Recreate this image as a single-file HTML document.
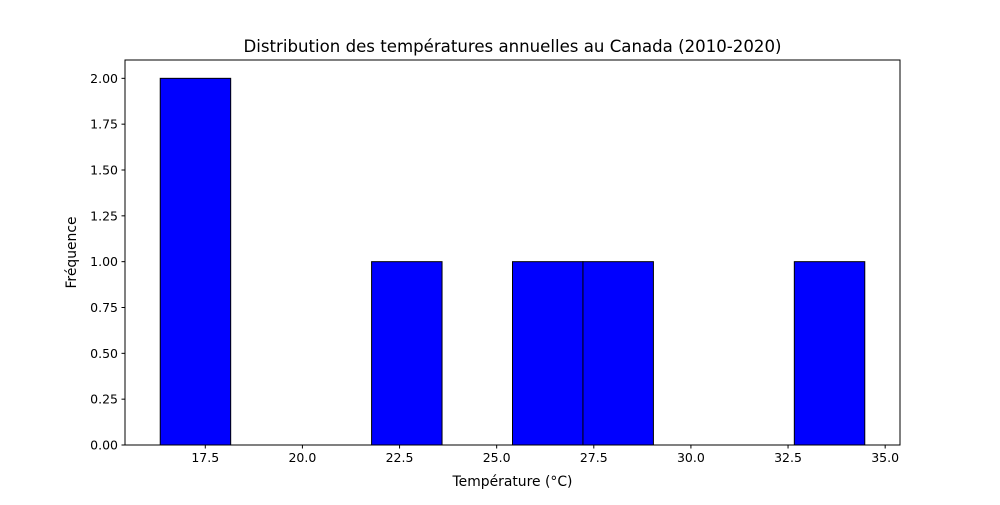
<!DOCTYPE html>
<html><head><meta charset="utf-8"><style>
body{margin:0;background:#fff;font-family:"Liberation Sans","DejaVu Sans",sans-serif}
svg text{font-family:"DejaVu Sans","Liberation Sans",sans-serif;fill:#000}
</style></head><body>
<svg id="c" width="1000" height="500"></svg>
<script>
const binMin = 16.34;
const binMax = 34.475;
const counts = [2,0,0,1,0,1,1,0,0,1];
const xTicks = [17.5,20.0,22.5,25.0,27.5,30.0,32.5,35.0];
const yTicks = [0,0.25,0.5,0.75,1.0,1.25,1.5,1.75,2.0];
const NS='http://www.w3.org/2000/svg';
const svg=document.getElementById('c');
const L=125,R=900,T=60,B=445;
const span=binMax-binMin, x0=binMin-span*0.05, x1=binMax+span*0.05;
const yMax=Math.max(...counts)*1.05;
const X=v=>L+(v-x0)/(x1-x0)*(R-L);
const Y=v=>B-v/yMax*(B-T);
function mk(tag,attrs,txt){const e=document.createElementNS(NS,tag);for(const k in attrs)e.setAttribute(k,attrs[k]);if(txt!==undefined)e.textContent=txt;svg.appendChild(e);return e;}
const w=span/counts.length;
counts.forEach((c,i)=>{if(c<=0)return;
 const r=mk('rect',{x:X(binMin+i*w),y:Y(c),width:X(binMin+(i+1)*w)-X(binMin+i*w),height:Y(0)-Y(c),fill:'#0000ff',stroke:'#000','stroke-width':1});
 
 
});
const frame=mk('rect',{x:L,y:T,width:R-L,height:B-T,fill:'none',stroke:'#000','stroke-width':1});


xTicks.forEach(t=>{const x=X(t);
 mk('line',{x1:x,x2:x,y1:B,y2:B+3.5,stroke:'#000'});
 const tx=mk('text',{x:x,y:B+17,'text-anchor':'middle','font-size':'12.5'},t.toFixed(1));
 
 
});
yTicks.forEach(t=>{const y=Y(t);
 mk('line',{x1:L-3.5,x2:L,y1:y,y2:y,stroke:'#000'});
 const tx=mk('text',{x:L-7,y:y+4.5,'text-anchor':'end','font-size':'12.5'},t.toFixed(2));
 
 
});
const ti=mk('text',{x:(L+R)/2,y:52,'text-anchor':'middle','font-size':'16.6'},'Distribution des températures annuelles au Canada (2010-2020)');


const xl=mk('text',{x:(L+R)/2,y:486,'text-anchor':'middle','font-size':'13.9'},'Température (°C)');


const yl=mk('text',{x:0,y:0,'text-anchor':'middle','font-size':'13.9',transform:'translate(76,'+((T+B)/2)+') rotate(-90)'},'Fréquence');


</script>
</body></html>
